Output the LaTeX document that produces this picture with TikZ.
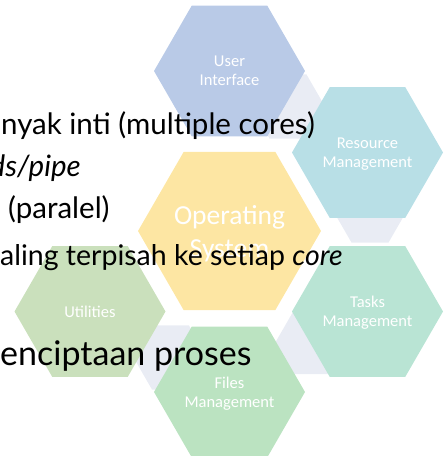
\documentclass[tikz,border=0pt]{standalone}
\usepackage{fontspec}
\usepackage{xcolor}
\usetikzlibrary{shapes.geometric}

\newfontfamily\hexfont{Carlito}
\newfontfamily\slidefont{Lato}

\definecolor{uiblue}{HTML}{B9CAE7}
\definecolor{resblue}{HTML}{B8DFE6}
\definecolor{taskgreen}{HTML}{B9E4D4}
\definecolor{filegreen}{HTML}{BBE3C1}
\definecolor{utilgreen}{HTML}{CAE0BC}
\definecolor{osyellow}{HTML}{FDE6A3}
\definecolor{linkgray}{HTML}{E9ECF4}

\begin{document}
\begin{tikzpicture}[x=1pt,y=-1pt,
  hexa/.style={regular polygon,regular polygon sides=6,minimum size=151pt,inner sep=0pt,
    text depth=0pt,text=white,align=center,font=\hexfont\fontsize{16.5}{19}\selectfont},
  link/.style={regular polygon,regular polygon sides=6,minimum size=74pt,inner sep=0pt,fill=linkgray},
  bodytext/.style={inner sep=0pt,font=\slidefont\fontsize{29.5}{35}\selectfont}]
\useasboundingbox (0,0) rectangle (444,456);
\node[link] (l1) at (288,106.5) {};
\node[link] (l2) at (370,210.5) {};
\node[link] (l3) at (312.6,342) {};
\node[link] (l4) at (170.5,357.5) {};
\node[hexa,fill=uiblue] (ui) at (229.5,71) {User\\Interface};
\node[hexa,fill=resblue] (res) at (367.5,152.5) {Resource\\Management};
\node[hexa,fill=taskgreen] (task) at (367.5,311.5) {Tasks\\Management};
\node[hexa,fill=filegreen] (file) at (229.5,392) {Files\\Management};
\node[hexa,fill=utilgreen] (util) at (90,311.5) {Utilities};
\node[hexa,fill=osyellow,minimum size=183pt,font=\hexfont\fontsize{27.5}{33}\selectfont] (os) at (229.5,231) {Operating\\System};
\node[bodytext,anchor=base east] (t1) at (315,134.3) {nyak inti (multiple cores)};
\node[bodytext,anchor=base east] (t2) at (81,176.7) {\itshape ds/pipe};
\node[bodytext,anchor=base west] (t3) at (8,218) {(paralel)};
\node[bodytext,anchor=base west,font=\slidefont\fontsize{28.5}{34}\selectfont] (t4) at (0,265) {aling terpisah ke setiap \textit{core}};
\node[bodytext,anchor=base west,font=\slidefont\fontsize{34}{40}\selectfont] (t5) at (0,365) {enciptaan proses};
\end{tikzpicture}
\end{document}
